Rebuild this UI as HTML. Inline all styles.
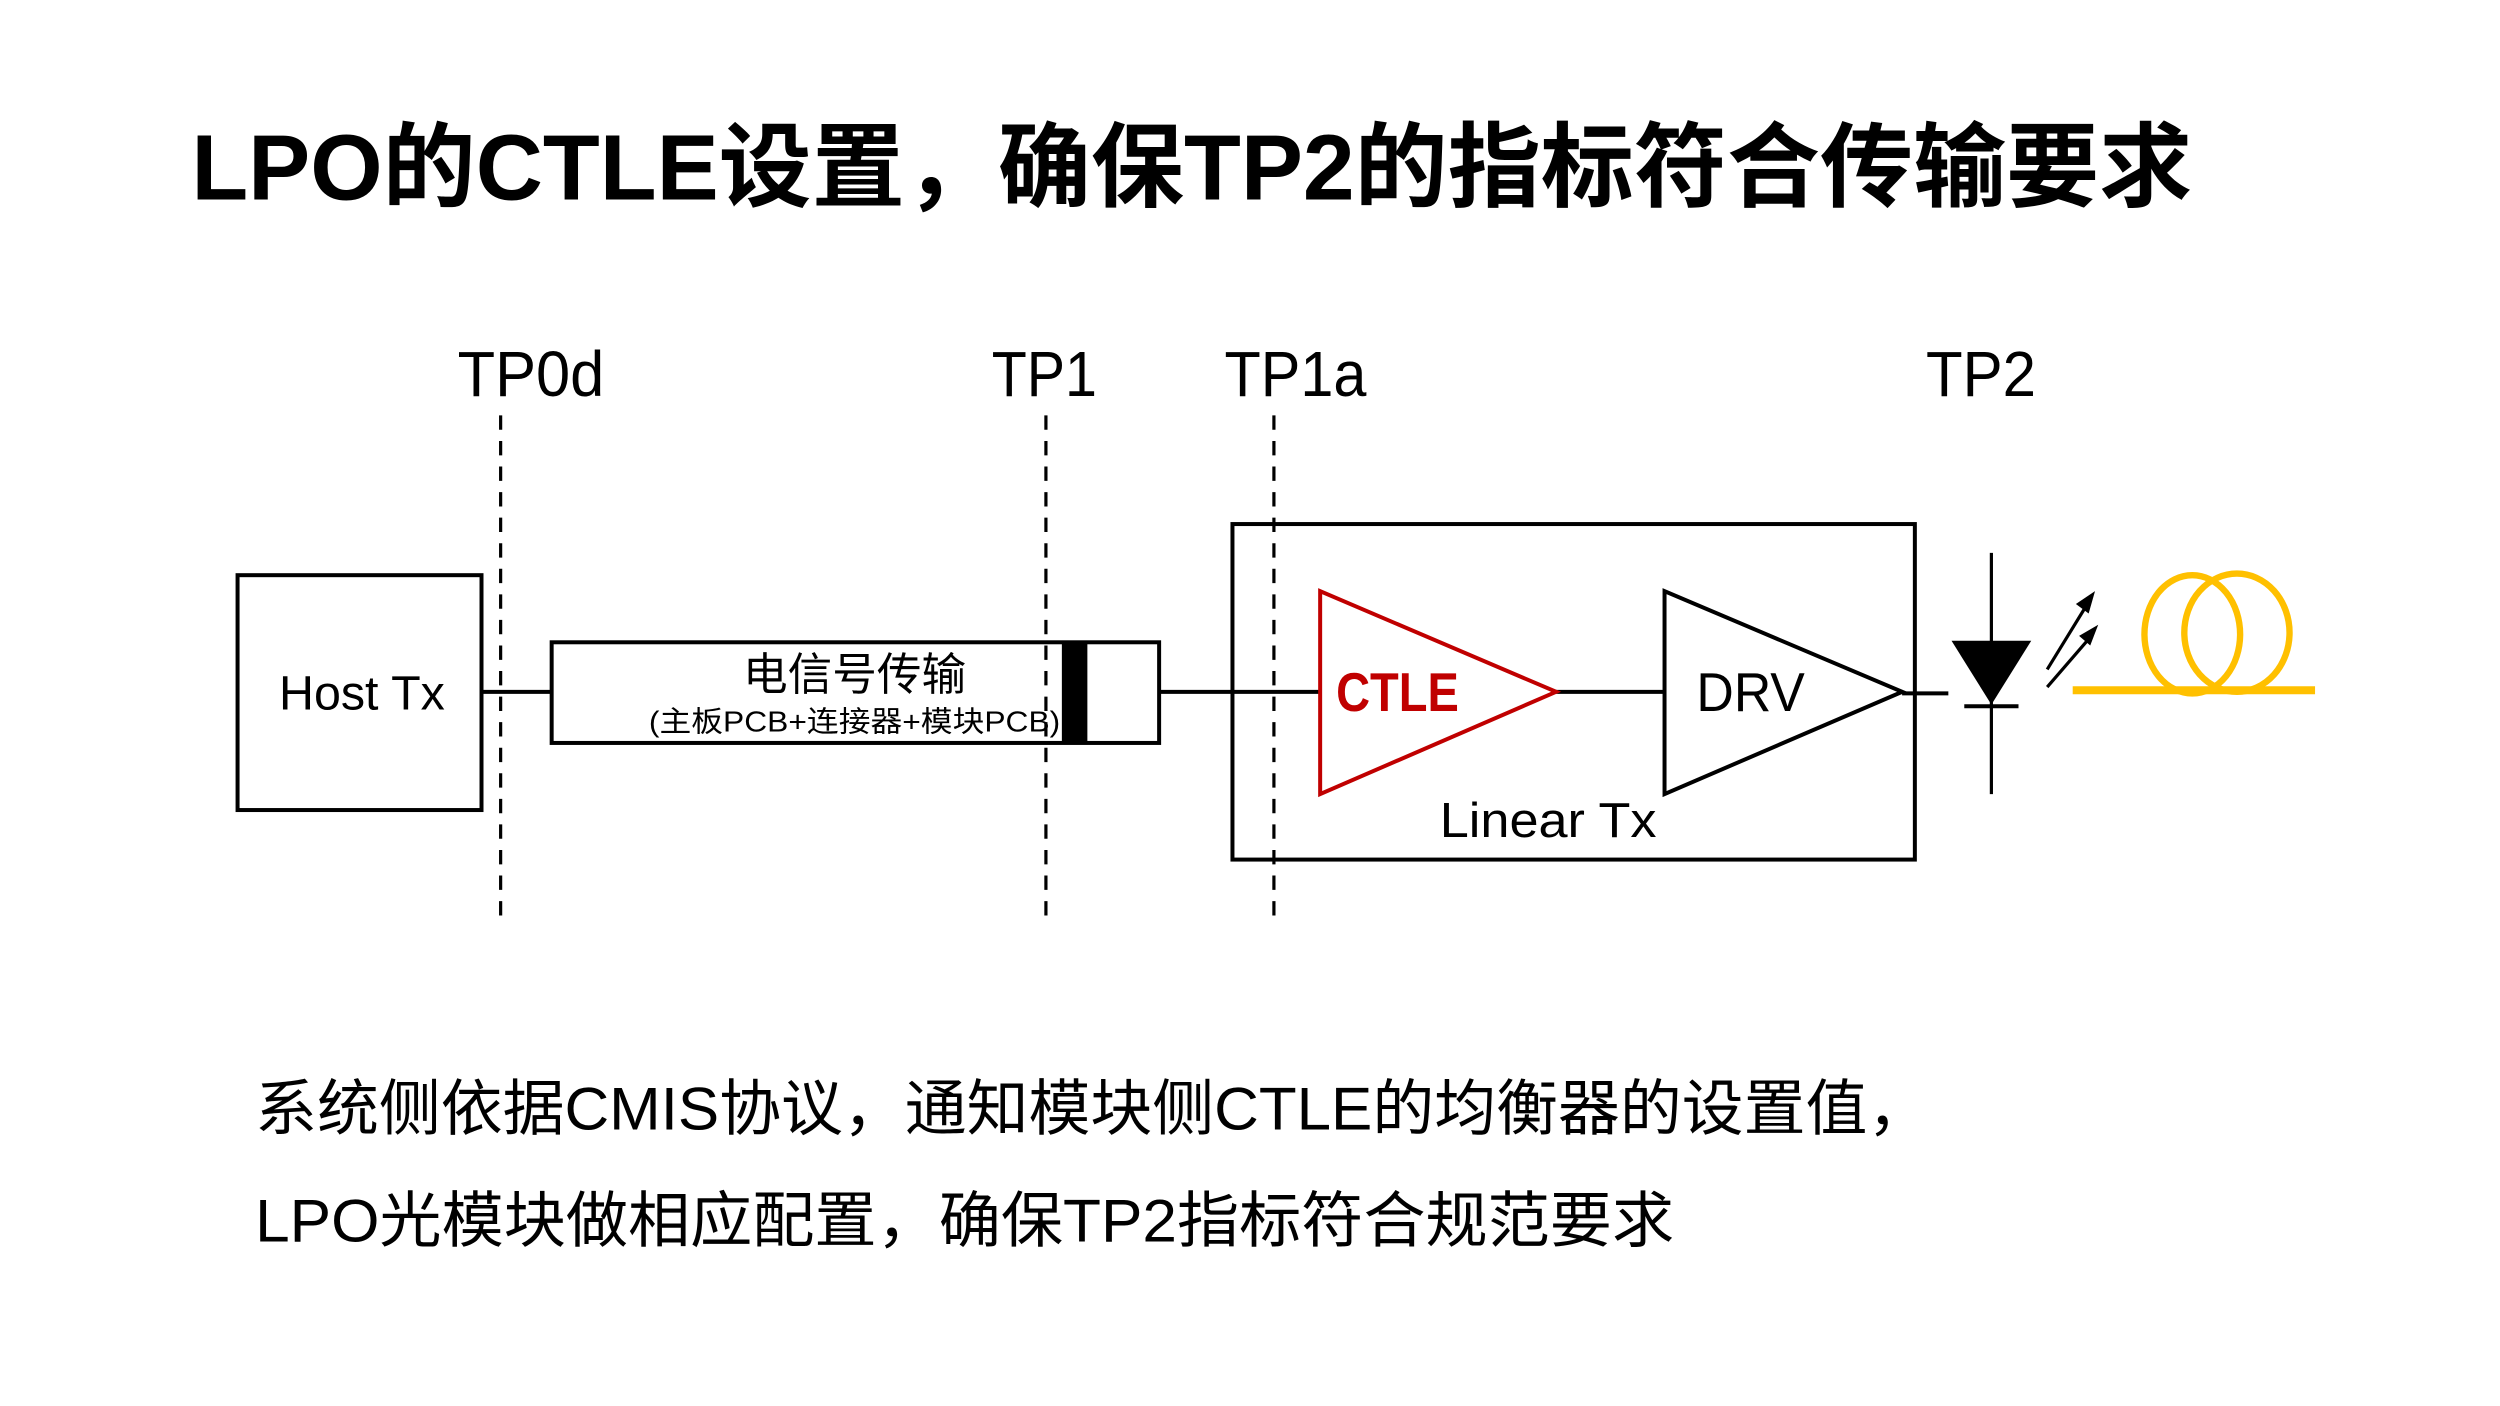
<!DOCTYPE html>
<html><head><meta charset="utf-8"><style>
html,body{margin:0;padding:0;background:#fff;width:2500px;height:1406px;overflow:hidden}
svg{display:block}
text{font-family:"Liberation Sans","Noto Sans CJK SC",sans-serif}
</style></head><body>
<svg width="2500" height="1406" viewBox="0 0 1568 880" preserveAspectRatio="none" xmlns="http://www.w3.org/2000/svg">
<rect width="1568" height="880" fill="#fff"/>
<text x="120" y="125" font-size="58" font-weight="bold" textLength="1255" lengthAdjust="spacingAndGlyphs">LPO的CTLE设置，确保TP2的指标符合传输要求</text>
<g font-size="40" fill="#000">
<text x="287" y="248" textLength="92" lengthAdjust="spacingAndGlyphs">TP0d</text>
<text x="622" y="248" textLength="66" lengthAdjust="spacingAndGlyphs">TP1</text>
<text x="768" y="248" textLength="89" lengthAdjust="spacingAndGlyphs">TP1a</text>
<text x="1208" y="248" textLength="69" lengthAdjust="spacingAndGlyphs">TP2</text>
</g>
<g stroke="#000" stroke-width="2" stroke-dasharray="9,7">
<line x1="314" y1="260" x2="314" y2="575"/>
<line x1="656" y1="260" x2="656" y2="575"/>
<line x1="799" y1="260" x2="799" y2="575"/>
</g>
<g stroke="#000" stroke-width="2.5" fill="none">
<rect x="149" y="360" width="153" height="147"/>
<line x1="302" y1="433" x2="346" y2="433"/>
<rect x="346" y="402" width="381" height="63"/>
<line x1="727" y1="433" x2="828" y2="433"/>
<rect x="773" y="328" width="428" height="210"/>
<line x1="976" y1="433" x2="1044" y2="433"/>
<polygon points="1044,370 1044,497 1193,433"/>
<line x1="1193" y1="434" x2="1222" y2="434"/>
<line x1="1249" y1="346" x2="1249" y2="497" stroke-width="2"/>
<line x1="1232" y1="442" x2="1266" y2="442"/>
<line x1="1284" y1="419" x2="1308" y2="380" stroke-width="2"/>
<line x1="1284" y1="430" x2="1310" y2="400" stroke-width="2"/>
</g>
<rect x="666" y="401" width="16" height="65" fill="#000"/>
<polygon points="828,370 828,497 976,433" fill="none" stroke="#c00000" stroke-width="2.5"/>
<polygon points="1224,401 1274,401 1249,441" fill="#000"/>
<polygon points="1314,370 1302,378 1310,384" fill="#000"/>
<polygon points="1316,391 1304,398 1311,404" fill="#000"/>
<g stroke="#ffc000" stroke-width="4" fill="none">
<line x1="1300" y1="432" x2="1452" y2="432" stroke-width="5"/>
<ellipse cx="1375" cy="397" rx="30" ry="37"/>
<ellipse cx="1403" cy="396" rx="33" ry="37"/>
</g>
<text x="227" y="444" font-size="30" text-anchor="middle" textLength="104" lengthAdjust="spacingAndGlyphs">Host Tx</text>
<text x="536" y="432" font-size="28" text-anchor="middle">电信号传输</text>
<text x="536" y="458" font-size="18" text-anchor="middle" textLength="258" lengthAdjust="spacingAndGlyphs">(主板PCB+连接器+模块PCB)</text>
<text x="838" y="445" font-size="34" font-weight="bold" fill="#c00000" textLength="77" lengthAdjust="spacingAndGlyphs">CTLE</text>
<text x="1064" y="445" font-size="34" textLength="68" lengthAdjust="spacingAndGlyphs">DRV</text>
<text x="971" y="524" font-size="31" text-anchor="middle" textLength="136" lengthAdjust="spacingAndGlyphs">Linear Tx</text>
<text x="160" y="707" font-size="38" textLength="1050" lengthAdjust="spacingAndGlyphs">系统侧依据CMIS协议，通知模块侧CTLE的均衡器的设置值，</text>
<text x="160" y="777" font-size="38" textLength="890" lengthAdjust="spacingAndGlyphs">LPO光模块做相应配置，确保TP2指标符合规范要求</text>
</svg>
</body></html>
